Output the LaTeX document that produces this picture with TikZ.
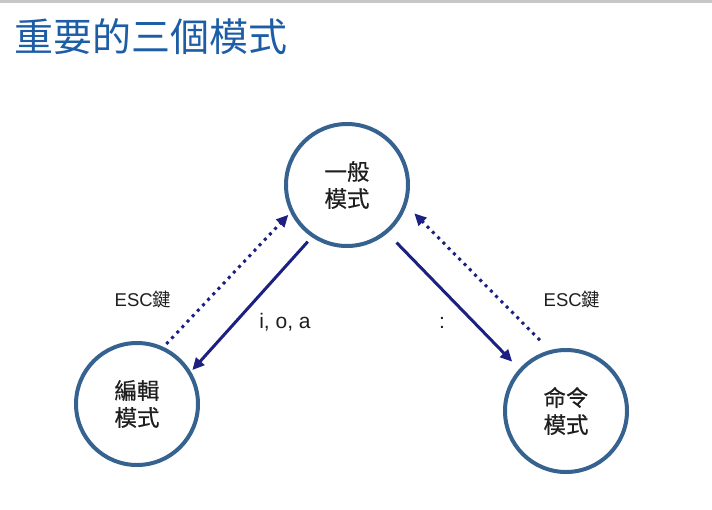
\documentclass[tikz,border=0pt]{standalone}
\usepackage{fontspec}
\setmainfont{Liberation Sans}
\newfontfamily\cjk{Noto Sans CJK TC}
\newfontfamily\cjkmid{Noto Sans CJK TC}[FakeBold=0.4]
\usetikzlibrary{arrows.meta}
\definecolor{modeblue}{HTML}{35628F}
\definecolor{arrownavy}{HTML}{1C2080}
\definecolor{titleblue}{HTML}{1C5DA6}
\definecolor{textgray}{HTML}{1E1E1E}

\begin{document}
\begin{tikzpicture}[x = 1pt, y = -1pt,
                    mode/.style = {circle, draw = modeblue, line width = 4pt, minimum size = 122pt,
                                   inner sep = 0pt, align = center, text = textgray,
                                   font = \cjkmid\fontsize{22.5}{27}\selectfont},
                    go/.style = {draw = arrownavy, line width = 3pt,
                                 -{Triangle[length = 12pt, width = 11pt]}},
                    back/.style = {go, dash pattern = on 3pt off 4.5pt},
                    lbl/.style = {text = textgray, font = \fontsize{18.5}{22}\selectfont}]
  \useasboundingbox (0, 0) rectangle (712, 509);
  \fill [black!22] (0, 0) rectangle (712, 3);

  \node [anchor = west, text = titleblue, font = \cjk\fontsize{39}{42}\selectfont] (title) at (11, 37) {重要的三個模式};

  \node [mode] (gen) at (347, 185) {一般\\模式};
  \node [mode] (edit) at (137, 404) {編輯\\模式};
  \node [mode] (cmd) at (566, 411) {命令\\模式};

  \draw [go, shorten <= 6pt, shorten >= 2pt] (gen.236) -- (edit.31);
  \draw [back, shorten <= 4pt, shorten >= 3pt] (edit.65) -- (gen.206);
  \draw [go, shorten <= 13pt, shorten >= 10pt] (gen.310) -- (cmd.138);
  \draw [back, shorten <= 14pt, shorten >= 11pt] (cmd.105) -- (gen.341);

  \node [lbl] (escl) at (143, 299) {ESC{\cjk 鍵}};
  \node [lbl, font = \fontsize{21}{24}\selectfont] (ioa) at (285, 322) {i, o, a};
  \node [lbl, font = \fontsize{21}{24}\selectfont] (colon) at (442, 323) {:};
  \node [lbl] (escr) at (572, 299) {ESC{\cjk 鍵}};
\end{tikzpicture}
\end{document}
